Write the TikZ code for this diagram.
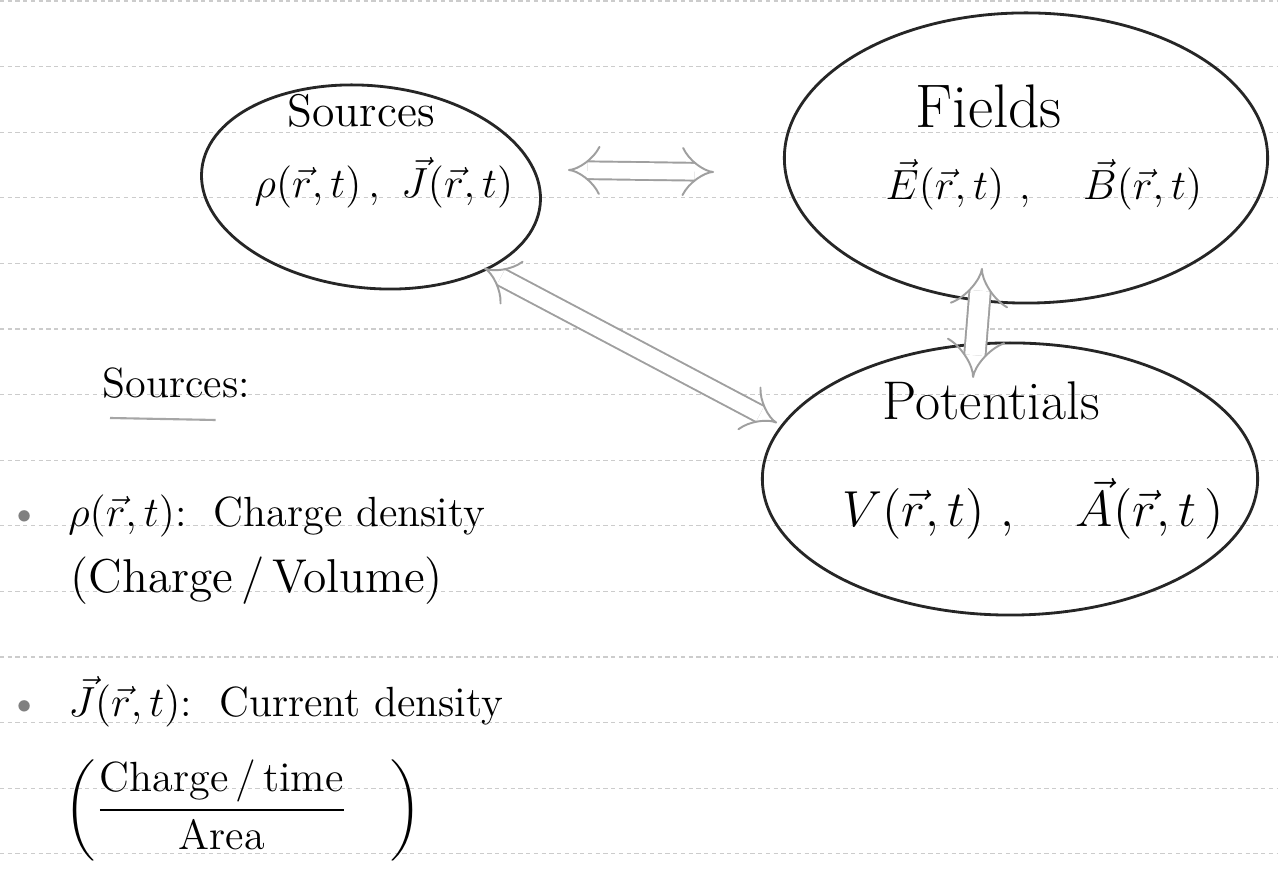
\documentclass[tikz,border=0pt]{standalone}
\usepackage{amsmath}
\usetikzlibrary{arrows.meta,shapes.geometric}

\begin{document}
\begin{tikzpicture}
          [x=0.01cm,y=-0.01cm,
           blob/.style={draw=black!85, ellipse, line width=0.8pt, inner sep=0pt},
           pen/.style={draw=gray!70, line width=0.6pt},
           dbl/.style={draw=gray!75, line width=0.55pt, double=white, {Implies}-{Implies}},
           rule/.style={draw=gray!40, line width=0.3pt, dash pattern=on 1.2pt off 1pt},
           txt/.style={inner sep=0pt, font=\fontsize{12}{15}\selectfont},
           mid/.style={inner sep=0pt, font=\fontsize{13}{16}\selectfont},
           big/.style={inner sep=0pt, font=\fontsize{15.5}{19}\selectfont}]
        \fill[white] (0,0) rectangle (1278,874);
        \useasboundingbox (0,0) rectangle (1278,874);

        % ruled paper
        \foreach \k in {0,...,13}
          \draw[rule] (0,{65.6*\k+1}) -- (1278,{65.6*\k+1});

        % the three blobs
        \node[blob, minimum width=3.4cm, minimum height=2.02cm, rotate=-6] (src) at (371,187) {};
        \node[blob, minimum width=4.83cm, minimum height=2.9cm] (fld) at (1026,158) {};
        \node[blob, minimum width=4.95cm, minimum height=2.72cm] (pot) at (1010,479) {};

        \node[mid, anchor=base west] (srcT) at (287,127) {Sources};
        \node[mid, font=\fontsize{12.5}{15}\selectfont, anchor=base] (srcQ) at (384,198) {$\rho(\vec r,t)\,,\ \vec J(\vec r,t)$};
        \node[big, font=\fontsize{17.5}{20}\selectfont, anchor=base west] (fldT) at (915,128) {Fields};
        \node[mid, anchor=base west] (fldQ) at (885,200) {$\vec E(\vec r,t)\ ,\quad \vec B(\vec r,t)$};
        \node[big, anchor=base west] (potT) at (882,420) {Potentials};
        \node[big, font=\fontsize{15}{18}\selectfont, anchor=base west] (potQ) at (842,527) {$V(\vec r,t)\ ,\quad \vec A(\vec r,t\,)$};

        % arrows between them
        \coordinate (sf1) at (568,170);
        \coordinate (sf2) at (714,172);
        \coordinate (fp1) at (982,268);
        \coordinate (fp2) at (973,378);
        \coordinate (sp1) at (484,268);
        \coordinate (sp2) at (777,423);
        \draw[dbl, double distance=4.5pt] (sf1) -- (sf2);
        \draw[dbl, double distance=5.5pt] (fp1) -- (fp2);
        \draw[dbl, double distance=4.5pt] (sp1) -- (sp2);

        % notes on the left
        \node[txt, anchor=base west] (lSrc) at (102,398) {Sources:};
        \draw[pen] ([xshift=0.08cm, yshift=-0.2cm]lSrc.base west) -- ([xshift=-0.35cm, yshift=-0.22cm]lSrc.base east);
        \node[txt, anchor=base west] (lRho) at (8,527) {{\color{gray}\textbullet}\ \ $\rho(\vec r,t)$:\ \ Charge density};
        \node[mid, font=\fontsize{13.5}{16}\selectfont, anchor=base west] (lRhoU) at (70,593) {(Charge\,/\,Volume)};
        \node[txt, anchor=base west] (lJ) at (8,717) {{\color{gray}\textbullet}\ \ $\vec J(\vec r,t)$:\ \ Current density};
        \node[txt, anchor=west] (lJU) at (64,810) {$\left(\dfrac{\text{Charge\,/\,time}}{\text{Area}}\quad\right)$};
      \end{tikzpicture}
\end{document}
